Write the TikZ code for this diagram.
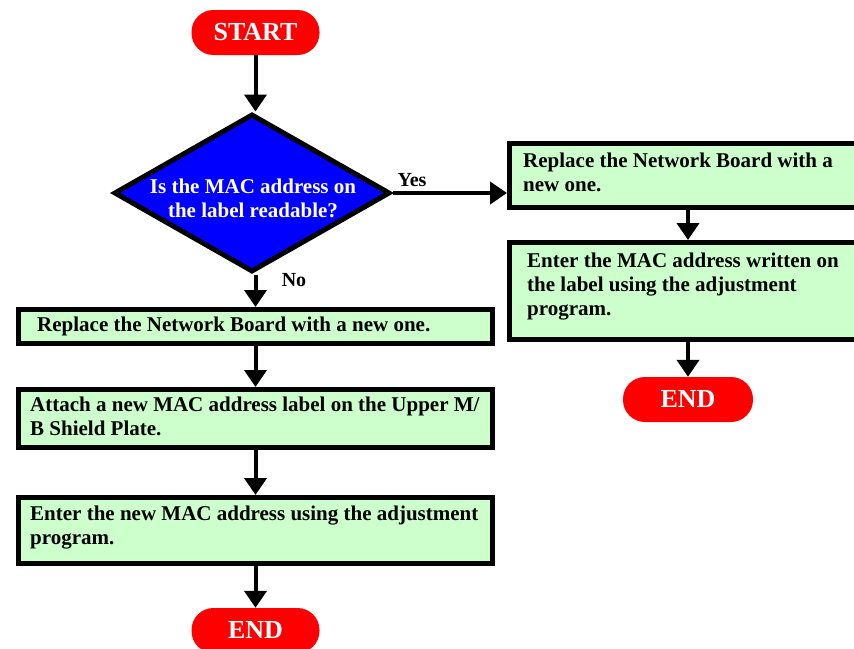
\documentclass[tikz,border=0pt]{standalone}
\usepackage{fontspec}
\setmainfont{Liberation Serif}
\usetikzlibrary{arrows.meta,shapes.geometric}
\definecolor{boxgreen}{RGB}{204,255,204}
\definecolor{pillred}{RGB}{255,0,0}
\definecolor{dblue}{RGB}{0,0,255}
\begin{document}
\begin{tikzpicture}[x=1pt,y=-1pt,
  pill/.style={rectangle, rounded corners=22pt, fill=pillred, minimum width=128pt, minimum height=45pt, inner sep=0pt, text=white, font=\fontsize{26}{28}\selectfont\bfseries},
  stepbox/.style={rectangle, draw=black, line width=5pt, fill=boxgreen, inner sep=0pt},
  btext/.style={anchor=west, align=left, inner sep=0pt, font=\fontsize{21}{24}\selectfont\bfseries},
  arr/.style={line width=4pt, -{Triangle[length=17pt,width=22pt]}},
  lbl/.style={inner sep=0pt, font=\fontsize{20}{22}\selectfont\bfseries}
]
\useasboundingbox (0,0) rectangle (854,648);
\clip (0,0) rectangle (854,648);
% left column
\node[pill] (start) at (255.5,32.5) {START};
\node[diamond, draw=black, line width=5pt, fill=dblue, minimum width=276pt, minimum height=158pt, inner sep=0pt] (dec) at (252,193) {};
\node[align=center, inner sep=0pt, text=white, font=\fontsize{21}{23.5}\selectfont\bfseries] (dectext) at (253,198.5) {Is the MAC address on\\the label readable?};
\node[stepbox, minimum width=474pt, minimum height=34pt] (l1) at (255.5,326.5) {};
\node[btext] (l1t) at (37,326.5) {Replace the Network Board with a new one.};
\node[stepbox, minimum width=474pt, minimum height=58pt] (l2) at (255.5,418.5) {};
\node[btext] (l2t) at (30,416.5) {Attach a new MAC address label on the Upper M/\\B Shield Plate.};
\node[stepbox, minimum width=474pt, minimum height=66pt] (l3) at (255.5,530.5) {};
\node[btext] (l3t) at (30,528) {Enter the new MAC address using the adjustment\\program.};
\node[pill] (end1) at (255.5,630.5) {END};
% right column
\node[stepbox, minimum width=360pt, minimum height=64pt] (r1) at (689.5,175.5) {};
\node[btext] (r1t) at (523,172.5) {Replace the Network Board with a\\new one.};
\node[stepbox, minimum width=360pt, minimum height=97pt] (r2) at (689.5,291) {};
\node[btext] (r2t) at (527,287) {Enter the MAC address written on\\the label using the adjustment\\program.};
\node[pill, minimum width=130pt] (end2) at (688,399.5) {END};
% labels
\node[lbl] (yes) at (412,180) {Yes};
\node[lbl] (no) at (294,280) {No};
% connectors
\draw[arr] (start.south) -- (start.south |- dec.north);
\draw[arr] (l1.north |- dec.south) -- (l1.north);
\draw[arr] (l1.south) -- (l2.north);
\draw[arr] (l2.south) -- (l3.north);
\draw[arr] (l3.south) -- (end1.north);
\draw[arr] (dec.east) -- (dec.east -| r1.west);
\draw[arr] (r1.south -| end2.north) -- (r2.north -| end2.north);
\draw[arr] (r2.south -| end2.north) -- (end2.north);
\end{tikzpicture}
\end{document}
